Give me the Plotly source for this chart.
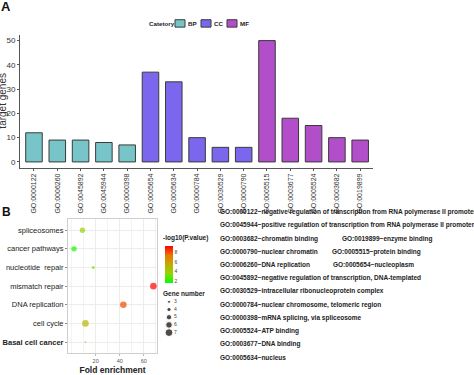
import plotly.graph_objects as go

W, H = 474, 375

def fx(p):
    return p / W

def fy(p):
    return 1 - p / H

# ---------------- data ----------------
go_ids = ["GO:0000122", "GO:0006260", "GO:0045892", "GO:0045944", "GO:0000398",
          "GO:0005654", "GO:0005634", "GO:0000784", "GO:0030529", "GO:0000790",
          "GO:0005515", "GO:0003677", "GO:0005524", "GO:0003682", "GO:0019899"]
target_genes = [12, 9, 9, 8, 7, 37, 33, 10, 6, 6, 50, 18, 15, 10, 9]
go_category = ["BP"] * 5 + ["CC"] * 5 + ["MF"] * 5
category_names = ["BP", "CC", "MF"]
category_colors = ["#77C5C9", "#7B66EE", "#B24ECA"]
y_ticks_top = [0, 10, 20, 30, 40, 50]

pathways = ["spliceosomes", "cancer pathways", "nucleotide\u00a0\u00a0repair",
            "mismatch repair", "DNA replication", "cell cycle", "Basal cell cancer"]
pathway_labels = ["spliceosomes", "cancer pathways", "nucleotide\u00a0\u00a0repair",
                  "mismatch repair", "DNA replication", "cell cycle", "<b>Basal cell cancer</b>"]
fold_enrichment = [9, 2, 18, 68, 43, 11.5, 11.5]
neg_log10_p = [3.8, 1.8, 3.3, 9.2, 8.0, 5.0, 3.0]
gene_number = [5, 5, 3, 6, 6, 6, 2]
gene_legend_values = [3, 4, 5, 6, 7]
color_ticks = [2, 4, 6, 8]
x_ticks_bottom = [20, 40, 60]

go_terms_col1 = [
    "GO:0000122~negative regulation of transcription from RNA polymerase II promoter",
    "GO:0045944~positive regulation of transcription from RNA polymerase II promoter",
    "GO:0003682~chromatin binding",
    "GO:0000790~nuclear chromatin",
    "GO:0006260~DNA replication",
    "GO:0045892~negative regulation of transcription, DNA-templated",
    "GO:0030529~intracellular ribonucleoprotein complex",
    "GO:0000784~nuclear chromosome, telomeric region",
    "GO:0000398~mRNA splicing, via spliceosome",
    "GO:0005524~ATP binding",
    "GO:0003677~DNA binding",
    "GO:0005634~nucleus",
]
go_terms_col2 = ["", "", "GO:0019899~enzyme binding", "GO:0005515~protein binding",
                 "GO:0005654~nucleoplasm", "", "", "", "", "", "", ""]
col2_x = [0, 0, 340, 330, 331, 0, 0, 0, 0, 0, 0, 0]

def size_of(g):
    return 1.2 * g - 0.6

FONT = "Liberation Sans, Arial, sans-serif"
colorscale = [[0, "#00FF00"], [0.25, "#8FD800"], [0.5, "#C3AC00"],
              [0.75, "#E97500"], [1, "#FF0000"]]
cmin, cmax = 1.6, 9.2

fig = go.Figure()

# ---------------- panel A bars ----------------
for name, col in zip(category_names, category_colors):
    xs = [g for g, c in zip(go_ids, go_category) if c == name]
    ys = [v for v, c in zip(target_genes, go_category) if c == name]
    fig.add_trace(go.Bar(x=xs, y=ys, name=name, marker=dict(color=col, line=dict(color="#3a3a3a", width=1)),
                         width=0.71, showlegend=False, xaxis="x", yaxis="y"))

# ---------------- panel B scatter ----------------
fig.add_trace(go.Scatter(
    x=fold_enrichment, y=pathways, mode="markers", xaxis="x2", yaxis="y2", showlegend=False,
    marker=dict(size=[size_of(g) for g in gene_number], color=neg_log10_p,
                colorscale=colorscale, cmin=cmin, cmax=cmax, line=dict(width=0),
                colorbar=dict(thickness=8, len=37, lenmode="pixels", x=fx(165), xanchor="left",
                              y=fy(268.5), yanchor="middle", xpad=0, ypad=0, outlinewidth=0,
                              tickvals=color_ticks, ticks="", ticklabelposition="outside",
                              tickfont=dict(size=5, color="#444", family=FONT)))))

# gene number legend
fig.add_trace(go.Scatter(x=[9] * len(gene_legend_values), y=gene_legend_values, mode="markers",
                         xaxis="x3", yaxis="y3", showlegend=False,
                         marker=dict(size=[size_of(g) for g in gene_legend_values], color="black")))
fig.add_trace(go.Scatter(x=[14] * len(gene_legend_values), y=gene_legend_values, mode="text",
                         text=[str(g) for g in gene_legend_values], textposition="middle right",
                         textfont=dict(size=5, color="#444", family=FONT),
                         xaxis="x3", yaxis="y3", showlegend=False))

axis_line = "#555555"
fig.update_layout(
    width=W, height=H, margin=dict(l=0, r=0, t=0, b=0),
    paper_bgcolor="white", plot_bgcolor="white",
    font=dict(family=FONT, color="#333"),
    bargap=0.29,
    xaxis=dict(domain=[fx(20), fx(373)], range=[-0.6, 14.55], type="category",
               categoryorder="array", categoryarray=go_ids,
               showline=True, linecolor=axis_line, linewidth=1, ticks="outside", ticklen=2,
               tickcolor=axis_line, tickangle=-90, tickfont=dict(size=7, color="#333"),
               showgrid=False, zeroline=False, anchor="y"),
    yaxis=dict(domain=[fy(170), fy(35)], range=[-2.4, 52.5], tickvals=y_ticks_top,
               showline=True, linecolor=axis_line, linewidth=1, ticks="outside", ticklen=2,
               tickcolor=axis_line, tickfont=dict(size=8, color="#333"),
               showgrid=False, zeroline=False, anchor="x"),
    xaxis2=dict(domain=[fx(68), fx(157)], range=[-3, 71], tickvals=x_ticks_bottom,
                showline=True, mirror=True, linecolor="#cfcfcf", linewidth=1,
                ticks="outside", ticklen=2, tickcolor="#bbb",
                tickfont=dict(size=5.5, color="#555"), showgrid=True, gridcolor="#ececec",
                gridwidth=0.6, minor=dict(dtick=10, showgrid=True, gridcolor="#f3f3f3", gridwidth=0.5),
                zeroline=False, anchor="y2",
                title=dict(text="<b>Fold enrichment</b>", font=dict(size=8.5, color="#222"), standoff=5)),
    yaxis2=dict(domain=[fy(358), fy(222)], type="category", categoryorder="array",
                categoryarray=pathways, range=[6.6, -0.6], tickvals=pathways, ticktext=pathway_labels,
                showline=True, mirror=True, linecolor="#cfcfcf", linewidth=1,
                ticks="outside", ticklen=2, tickcolor="#888",
                tickfont=dict(size=7.5, color="#222"), showgrid=True, gridcolor="#ececec",
                gridwidth=0.6, zeroline=False, anchor="x2"),
    xaxis3=dict(domain=[fx(160), fx(190)], range=[0, 30], visible=False, anchor="y3"),
    yaxis3=dict(domain=[fy(341), fy(302)], range=[7.5, 2.5], visible=False, anchor="x3"),
)

ann = []
ann.append(dict(text="<b>A</b>", x=fx(-1), y=fy(-3), xref="paper", yref="paper", xanchor="left",
                yanchor="top", showarrow=False, font=dict(size=13, color="#111")))
ann.append(dict(text="<b>B</b>", x=fx(0), y=fy(215), xref="paper", yref="paper", xanchor="left",
                yanchor="middle", showarrow=False, font=dict(size=12, color="#111")))
ann.append(dict(text="target genes", x=fx(3), y=fy(102), xref="paper", yref="paper", textangle=-90,
                xanchor="center", yanchor="middle", showarrow=False, font=dict(size=10, color="#333")))

# category legend (top)
ann.append(dict(text="<b>Catetory</b>", x=fx(147), y=fy(24), xref="paper", yref="paper",
                xanchor="left", yanchor="middle", showarrow=False, font=dict(size=6.2, color="#222")))
box_x = [175, 201, 227]
shapes = []
for bx, name, col in zip(box_x, category_names, category_colors):
    shapes.append(dict(type="rect", xref="paper", yref="paper", x0=fx(bx), x1=fx(bx + 10),
                       y0=fy(27.5), y1=fy(20), fillcolor=col, line=dict(color="#3a3a3a", width=1),
                       layer="below"))
    ann.append(dict(text="<b>%s</b>" % name, x=fx(bx + 12), y=fy(24), xref="paper", yref="paper",
                    xanchor="left", yanchor="middle", showarrow=False, borderpad=0,
                    font=dict(size=6.2, color="#222")))

# colour / size legend titles
ann.append(dict(text="<b>-log10(P.value)</b>", x=fx(161), y=fy(241.5), xref="paper", yref="paper",
                xanchor="left", yanchor="middle", showarrow=False, font=dict(size=6.5, color="#222")))
ann.append(dict(text="<b>Gene number</b>", x=fx(161), y=fy(297.5), xref="paper", yref="paper",
                xanchor="left", yanchor="middle", showarrow=False, font=dict(size=6.5, color="#222")))

# GO term list
for i, (t1, t2, x2) in enumerate(zip(go_terms_col1, go_terms_col2, col2_x)):
    yy = 215 + i * 13.4
    ann.append(dict(text="<b>%s</b>" % t1, x=fx(218), y=fy(yy), xref="paper", yref="paper",
                    xanchor="left", yanchor="middle", showarrow=False, font=dict(size=6.5, color="#222")))
    if t2:
        ann.append(dict(text="<b>%s</b>" % t2, x=fx(x2), y=fy(yy), xref="paper", yref="paper",
                        xanchor="left", yanchor="middle", showarrow=False, font=dict(size=6.5, color="#222")))

fig.update_layout(annotations=ann, shapes=shapes)
fig.write_html("out.html", config={"displayModeBar": False},
               post_script="document.body.style.margin='0';document.body.style.overflow='hidden';")
